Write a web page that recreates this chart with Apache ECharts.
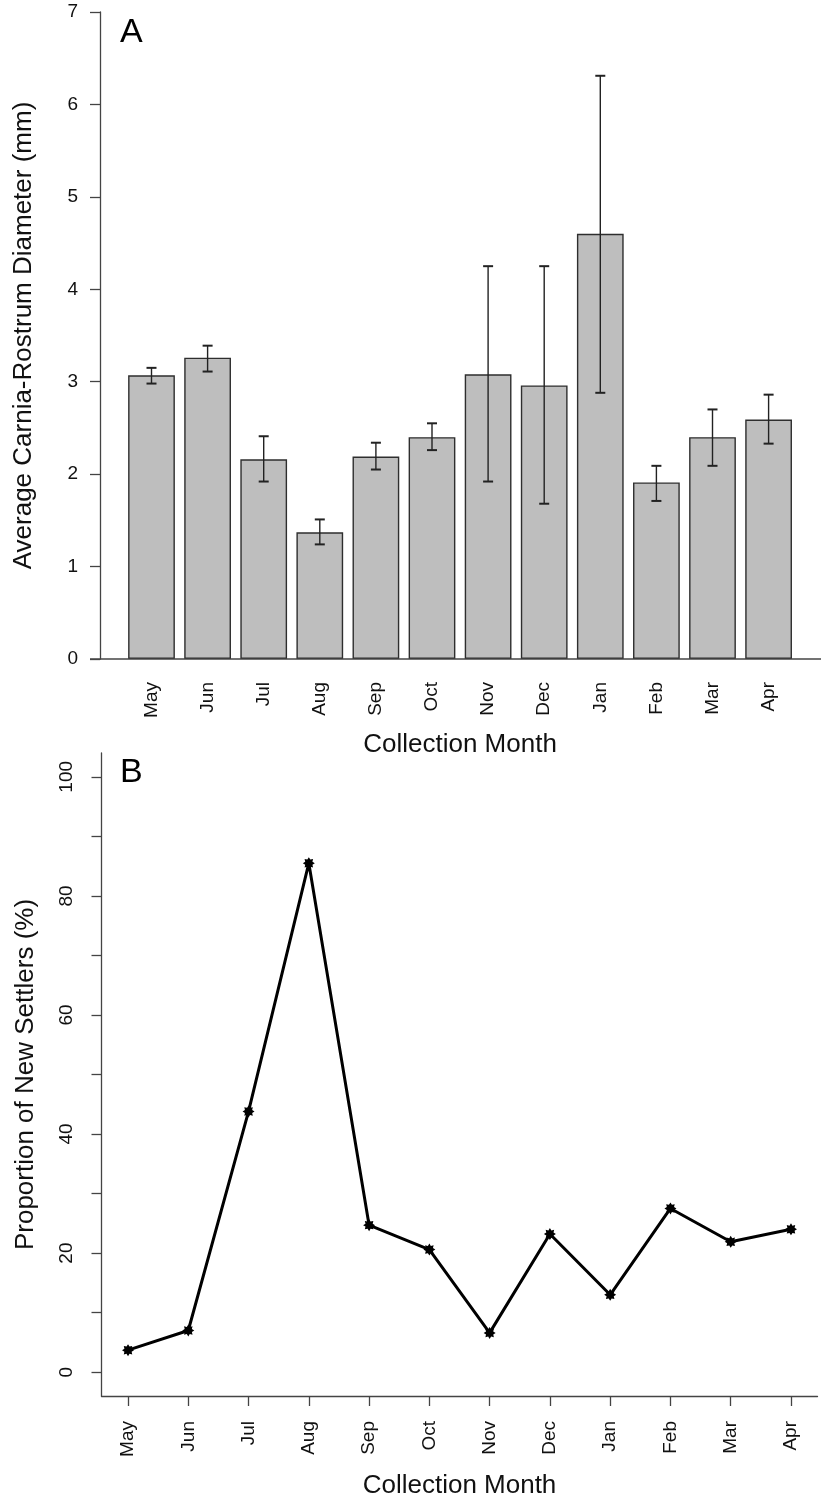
<!DOCTYPE html>
<html><head><meta charset="utf-8">
<script src="https://cdn.jsdelivr.net/npm/echarts@6/dist/echarts.min.js"></script>
<style>html,body{margin:0;padding:0;background:#fff}#c{width:821px;height:1500px}</style>
</head><body><div id="c"></div>
<script>
// ---- data ----
const months = ['May','Jun','Jul','Aug','Sep','Oct','Nov','Dec','Jan','Feb','Mar','Apr'];
const diameterMean = [3.07, 3.26, 2.16, 1.37, 2.19, 2.40, 3.08, 2.96, 4.60, 1.91, 2.40, 2.59];
const diameterLow  = [2.98, 3.11, 1.92, 1.24, 2.05, 2.26, 1.92, 1.68, 2.88, 1.71, 2.09, 2.33];
const diameterHigh = [3.15, 3.39, 2.41, 1.51, 2.34, 2.55, 4.25, 4.25, 6.31, 2.09, 2.70, 2.86];
const newSettlers  = [3.7, 7.0, 43.8, 85.5, 24.7, 20.6, 6.6, 23.2, 13.0, 27.5, 21.9, 24.0];
const settlerTicks  = [0, 10, 20, 30, 40, 50, 60, 70, 80, 90, 100];
const settlerLabels = [0, 20, 40, 60, 80, 100];
const monthPositions = [1, 2, 3, 4, 5, 6, 7, 8, 9, 10, 11, 12];

// ---- style ----
const FONT = "'Liberation Sans', Arial, sans-serif";
const AX = '#444';
const TXT = '#111';

// 8-point star symbol (R pch-like marker)
function starPath() {
  let d = '';
  for (let k = 0; k < 16; k++) {
    const a = k * Math.PI / 8 - Math.PI / 2;
    const r = k % 2 === 0 ? 10 : 6.5;
    const x = (10 + r * Math.cos(a)).toFixed(2), y = (10 + r * Math.sin(a)).toFixed(2);
    d += (k === 0 ? 'M' : 'L') + x + ' ' + y + ' ';
  }
  return 'path://' + d + 'Z';
}

const chart = echarts.init(document.getElementById('c'), null, {renderer: 'canvas'});

const option = {
  animation: false,
  backgroundColor: '#fff',
  textStyle: {fontFamily: FONT, color: TXT},
  grid: [
    {left: 123.45, right: 24.35, top: 12, height: 647, containLabel: false},
    {left: 101.5, right: 3.5, top: 753, height: 644, containLabel: false}
  ],
  xAxis: [
    {
      gridIndex: 0, type: 'category', data: months, boundaryGap: true,
      axisLine: {show: false}, axisTick: {show: false},
      axisLabel: {rotate: 90, margin: 23, fontSize: 19, color: TXT, fontFamily: FONT},
      name: 'Collection Month', nameLocation: 'middle', nameGap: 73,
      nameTextStyle: {fontSize: 26, color: TXT, fontFamily: FONT},
      splitLine: {show: false}
    },
    {
      gridIndex: 1, type: 'value', min: 0.56, max: 12.44,
      axisLine: {show: true, onZero: false, lineStyle: {color: AX, width: 1.3}},
      axisTick: {show: true, inside: false, length: 10, customValues: monthPositions, lineStyle: {color: AX, width: 1.3}},
      axisLabel: {rotate: 90, margin: 25, fontSize: 19, color: TXT, fontFamily: FONT,
        customValues: monthPositions, formatter: v => months[Math.round(v) - 1] || ''},
      name: 'Collection Month', nameLocation: 'middle', nameGap: 77,
      nameTextStyle: {fontSize: 26, color: TXT, fontFamily: FONT},
      splitLine: {show: false}
    }
  ],
  yAxis: [
    {
      gridIndex: 0, type: 'value', min: 0, max: 7, interval: 1, offset: 23.45,
      axisLine: {show: true, lineStyle: {color: AX, width: 1.3}},
      axisTick: {show: true, inside: false, length: 10, lineStyle: {color: AX, width: 1.3}},
      axisLabel: {margin: 22, fontSize: 19, color: TXT, fontFamily: FONT},
      name: 'Average Carnia-Rostrum Diameter (mm)', nameLocation: 'middle', nameGap: 63, nameRotate: 90,
      nameTextStyle: {fontSize: 26, color: TXT, fontFamily: FONT},
      splitLine: {show: false}
    },
    {
      gridIndex: 1, type: 'value', min: -4, max: 104,
      axisLine: {show: true, onZero: false, lineStyle: {color: AX, width: 1.3}},
      axisTick: {show: true, inside: false, length: 10, customValues: settlerTicks, lineStyle: {color: AX, width: 1.3}},
      axisLabel: {rotate: 90, margin: 25, fontSize: 19, color: TXT, fontFamily: FONT, customValues: settlerLabels},
      name: 'Proportion of New Settlers (%)', nameLocation: 'middle', nameGap: 63, nameRotate: 90,
      nameTextStyle: {fontSize: 26, color: TXT, fontFamily: FONT},
      splitLine: {show: false}
    }
  ],
  series: [
    {
      type: 'bar', xAxisIndex: 0, yAxisIndex: 0, data: diameterMean, barWidth: 46.75,
      itemStyle: {color: '#bebebe', borderColor: '#2e2e2e', borderWidth: 1.4}
    },
    {
      type: 'custom', xAxisIndex: 0, yAxisIndex: 0, z: 5,
      data: months.map((m, i) => [i, diameterLow[i], diameterHigh[i]]),
      renderItem: function (params, api) {
        const i = api.value(0);
        const lo = api.coord([i, api.value(1)]);
        const hi = api.coord([i, api.value(2)]);
        const hw = 5;
        const st = {stroke: '#222', lineWidth: 1.4};
        const cap = {stroke: '#222', lineWidth: 2};
        return {type: 'group', children: [
          {type: 'line', shape: {x1: lo[0], y1: lo[1], x2: hi[0], y2: hi[1]}, style: st},
          {type: 'line', shape: {x1: lo[0] - hw, y1: lo[1], x2: lo[0] + hw, y2: lo[1]}, style: cap},
          {type: 'line', shape: {x1: hi[0] - hw, y1: hi[1], x2: hi[0] + hw, y2: hi[1]}, style: cap}
        ]};
      }
    },
    {
      type: 'line', xAxisIndex: 1, yAxisIndex: 1,
      data: months.map((m, i) => [monthPositions[i], newSettlers[i]]),
      symbol: starPath(), symbolSize: 12, showSymbol: true,
      lineStyle: {color: '#000', width: 3},
      itemStyle: {color: '#000'}
    }
  ]
};
chart.setOption(option);

const y0 = chart.convertToPixel({yAxisIndex: 0}, 0);
chart.setOption({
  graphic: [
    {type: 'line', shape: {x1: 90, y1: y0, x2: 821, y2: y0}, style: {stroke: AX, lineWidth: 1.3}, z: 10},
    {type: 'text', left: 120, top: 16, style: {text: 'A', fontSize: 34, fontFamily: FONT, fill: '#000'}},
    {type: 'text', left: 120, top: 756, style: {text: 'B', fontSize: 34, fontFamily: FONT, fill: '#000'}}
  ]
});
</script>
</body></html>
